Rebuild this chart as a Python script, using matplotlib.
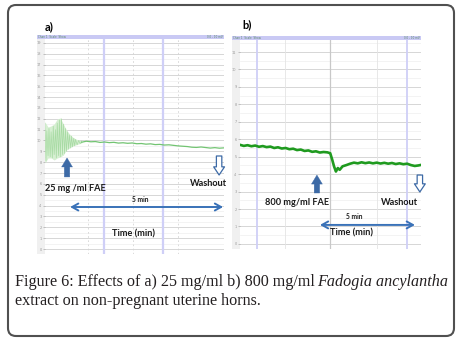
import matplotlib.pyplot as plt
from matplotlib.patches import FancyBboxPatch, Rectangle

# panel a) 25 mg/ml FAE -- time in min, tension in grid units
a_burst_t = [0.0, 0.1, 0.2, 0.3, 0.4, 0.5, 0.6, 0.7, 0.8, 0.9, 1.0, 1.1, 1.2]
a_burst_hi = [11.70, 11.24, 11.34, 11.52, 11.98, 12.07, 11.52, 10.97, 10.60, 10.32, 10.14, 10.05, 9.95]
a_burst_lo = [7.93, 8.39, 8.39, 8.20, 8.39, 8.48, 8.66, 9.12, 9.31, 9.49, 9.59, 9.68, 9.77]
a_osc_t = [0.0, 0.03, 0.06, 0.1, 0.13, 0.17, 0.2, 0.24, 0.27, 0.3, 0.34, 0.37, 0.4,
           0.44, 0.47, 0.5, 0.54, 0.57, 0.6, 0.64, 0.67, 0.7, 0.74, 0.77, 0.8, 0.84,
           0.87, 0.9, 0.94, 0.97, 1.0, 1.05, 1.1, 1.15, 1.2]
a_osc_v = [11.6, 8.1, 10.9, 8.6, 11.1, 8.5, 10.8, 8.4, 11.3, 8.7, 11.0, 8.4, 11.6,
           8.6, 11.9, 8.5, 12.0, 8.7, 11.5, 8.8, 11.1, 9.0, 10.8, 9.2, 10.5, 9.3,
           10.4, 9.4, 10.2, 9.5, 10.1, 9.6, 10.0, 9.7, 9.95]
a_line_t = [1.20, 1.35, 1.50, 1.65, 1.80, 1.95, 2.10, 2.25, 2.40, 2.55, 2.70, 2.85, 3.00,
            3.15, 3.30, 3.45, 3.60, 3.75, 3.90, 4.05, 4.20, 4.35, 4.50, 4.65, 4.80, 4.95,
            5.10, 5.25, 5.40, 5.55, 5.70, 5.85]
a_line_v = [9.84, 9.93, 9.88, 9.90, 9.82, 9.86, 9.80, 9.83, 9.76, 9.79, 9.74, 9.77, 9.70,
            9.72, 9.66, 9.69, 9.62, 9.64, 9.58, 9.60, 9.55, 9.50, 9.47, 9.44, 9.38, 9.36,
            9.40, 9.35, 9.30, 9.34, 9.29, 9.32]
a_blue_lines = [1.93, 3.86]
a_dash_lines = [1.41, 2.88, 4.35]

# panel b) 800 mg/ml FAE
b_t = [0.0, 0.2, 0.4, 0.6, 0.8, 1.0, 1.2, 1.4, 1.6, 1.8, 2.0, 2.2, 2.4, 2.6, 2.8, 3.0,
       3.2, 3.4, 3.6, 3.8, 4.0, 4.2, 4.4, 4.6, 4.75, 4.85, 4.95, 5.05, 5.15, 5.25, 5.4,
       5.6, 5.8, 6.0, 6.2, 6.4, 6.6, 6.8, 7.0, 7.2, 7.4, 7.6, 7.8, 8.0, 8.2, 8.4, 8.6,
       8.8, 9.0, 9.2, 9.4, 9.53]
b_v = [5.68, 5.62, 5.66, 5.60, 5.64, 5.57, 5.61, 5.55, 5.58, 5.50, 5.54, 5.47, 5.50,
       5.43, 5.46, 5.38, 5.41, 5.33, 5.36, 5.28, 5.31, 5.24, 5.27, 5.25, 5.20, 4.85,
       4.45, 4.15, 4.35, 4.25, 4.45, 4.52, 4.60, 4.66, 4.62, 4.68, 4.63, 4.67, 4.62,
       4.66, 4.61, 4.65, 4.60, 4.64, 4.58, 4.62, 4.57, 4.60, 4.52, 4.47, 4.50, 4.53]
b_blue_lines = [0.89, 8.79]
b_gray_lines = [4.74]
b_faint_lines = [2.37, 7.21]

W, H = 459, 340
ARROW = "#3d6aa6"
LABEL_FONT = "Lato"


def px_rect(x0, y0, x1, y1):
    return [x0 / W, 1 - y1 / H, (x1 - x0) / W, (y1 - y0) / H]


def style_panel(ax, ylim, xlim):
    ax.set_xlim(*xlim)
    ax.set_ylim(*ylim)
    for s in ax.spines.values():
        s.set_visible(False)
    ax.set_xticks([])
    yt = list(range(0, int(ylim[1]) + 1))
    ax.set_yticks(yt)
    ax.set_yticklabels([f"{v}" for v in yt], fontsize=2.5, color="#999999")
    ax.tick_params(axis="y", length=1.5, width=0.4, color="#999999", pad=1)
    for v in yt:
        ax.axhline(v, color="#d6d6d6", lw=0.7, zorder=0)
        ax.axhline(v + 0.5, color="#efefef", lw=0.5, zorder=0)


def up_arrow(ax, x, y0, y1):
    ax.annotate("", xy=(x, y1), xytext=(x, y0),
                arrowprops=dict(arrowstyle="simple,head_length=0.5,head_width=0.6,tail_width=0.3",
                                mutation_scale=13, fc=ARROW, ec=ARROW, lw=0.3,
                                shrinkA=0, shrinkB=0))


def hollow_down(ax, x, y0, y1):
    ax.annotate("", xy=(x, y1), xytext=(x, y0), annotation_clip=False,
                arrowprops=dict(arrowstyle="simple,head_length=0.45,head_width=0.6,tail_width=0.3",
                                mutation_scale=13, fc="white", ec=ARROW, lw=0.9,
                                shrinkA=0, shrinkB=0))


def span_arrow(ax, x0, x1, y):
    ax.annotate("", xy=(x1, y), xytext=(x0, y), annotation_clip=False,
                arrowprops=dict(arrowstyle="<->,head_length=0.45,head_width=0.25",
                                color="#3a72b8", lw=1.4, shrinkA=0, shrinkB=0))


def bold(ax, x, y, s, size=6.6, ha="center"):
    ax.text(x, y, s, ha=ha, va="center", fontsize=size, fontweight="bold",
            family=LABEL_FONT, color="#1a1a1a", clip_on=False)


fig = plt.figure(figsize=(W / 100, H / 100), dpi=100)

# background layer in pixel units for frame, headers and caption
bg = fig.add_axes([0, 0, 1, 1])
bg.set_xlim(0, W)
bg.set_ylim(H, 0)
bg.axis("off")
bg.add_patch(FancyBboxPatch((8, 5), 446, 331, boxstyle="round,pad=0,rounding_size=8",
                            fc="white", ec="#505050", lw=1.5))
for (x0, x1, yh, ybot) in [(37, 224, 35, 254), (232, 421, 36, 249)]:
    bg.add_patch(Rectangle((x0, yh), x1 - x0, 4, fc="#c9c9f4", ec="none"))
    bg.add_patch(Rectangle((x0, yh + 4), 8, ybot - yh - 4, fc="#f0f0f0", ec="none"))
    bg.text(x0 + 1, yh + 2, "Chan 1  Scale  Show", fontsize=2, color="#5a8a6a", va="center")
    bg.text(x1 - 1, yh + 2, "0.0 - 10 mV", fontsize=2, color="#5a8a6a", va="center", ha="right")

bg.text(45, 27, "a)", fontsize=8, fontweight="bold", family=LABEL_FONT, va="center")
bg.text(242, 25, "b)", fontsize=8, fontweight="bold", family=LABEL_FONT, va="center")

cap = dict(fontsize=11.6, family="Liberation Serif", color="#231f20", va="center")
bg.text(15, 282, "Figure 6: Effects of a) 25 mg/ml b) 800 mg/ml", **cap)
bg.text(448, 282, "Fadogia ancylantha", ha="right", style="italic", **cap)
bg.text(15, 301, "extract on non-pregnant uterine horns.", **cap)

# panel a
ax_a = fig.add_axes(px_rect(45, 39, 224, 254))
style_panel(ax_a, (-0.46, 19.35), (0, 5.85))
for v in a_blue_lines:
    ax_a.axvline(v, color="#cfcff7", lw=1.6, zorder=1)
for v in a_dash_lines:
    ax_a.axvline(v, color="#d4d4d4", lw=0.6, ls=(0, (2, 3)), zorder=1)
ax_a.fill_between(a_burst_t, a_burst_lo, a_burst_hi, color="#d6efd2", lw=0, zorder=2)
ax_a.plot(a_osc_t, a_osc_v, color="#a8dba4", lw=0.5, zorder=3)
ax_a.plot(a_line_t, a_line_v, color="#72c472", lw=0.9, zorder=3)

up_arrow(ax_a, 0.72, 6.64, 8.39)
bold(ax_a, 0.0, 5.53, "25 mg /ml FAE", ha="left")
hollow_down(ax_a, 5.69, 8.57, 6.82)
bold(ax_a, 5.33, 5.99, "Washout")
span_arrow(ax_a, 0.82, 5.82, 3.87)
bold(ax_a, 3.10, 4.52, "5 min", size=4.8)
bold(ax_a, 2.88, 1.38, "Time (min)")

# panel b
ax_b = fig.add_axes(px_rect(240, 40, 421, 249))
style_panel(ax_b, (-0.29, 11.69), (0, 9.53))
for v in b_blue_lines:
    ax_b.axvline(v, color="#cfcff7", lw=1.3, zorder=1)
for v in b_gray_lines:
    ax_b.axvline(v, color="#c8c8c8", lw=0.9, zorder=1)
for v in b_faint_lines:
    ax_b.axvline(v, color="#e4e4e4", lw=0.6, zorder=1)
ax_b.plot(b_t, b_v, color="#1f9a1f", lw=1.9, zorder=3)

up_arrow(ax_b, 4.05, 2.92, 3.95)
bold(ax_b, 3.0, 2.35, "800 mg/ml FAE")
hollow_down(ax_b, 9.47, 3.95, 2.98)
bold(ax_b, 8.42, 2.35, "Washout")
span_arrow(ax_b, 4.21, 9.21, 1.09)
bold(ax_b, 6.0, 1.55, "5 min", size=4.8)
bold(ax_b, 5.89, 0.63, "Time (min)")

fig.savefig("out.png", dpi=100)
